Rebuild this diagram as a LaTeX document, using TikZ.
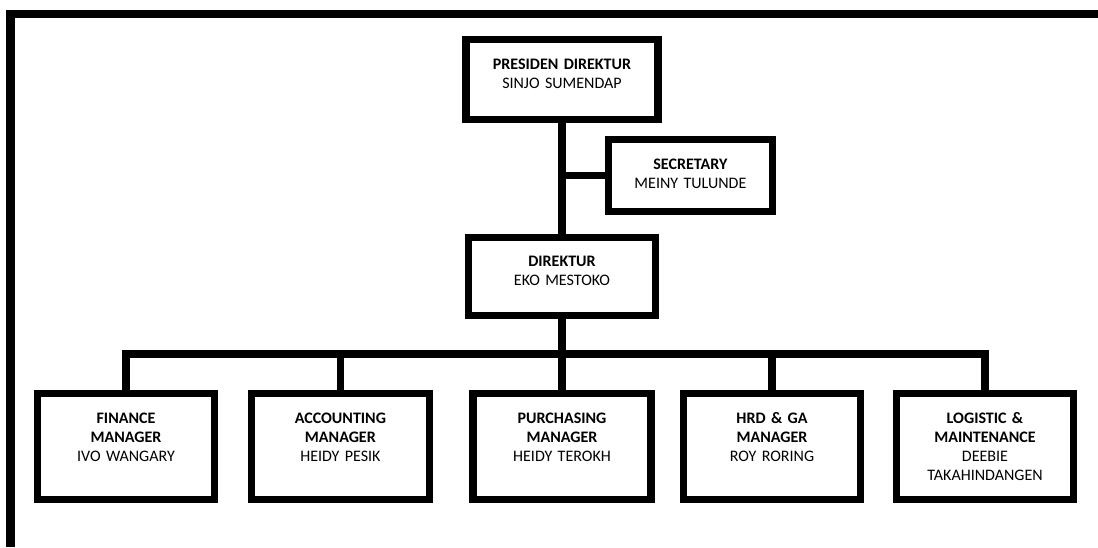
\documentclass[tikz,border=0pt]{standalone}
\usepackage{fontspec}
\setmainfont{Carlito}
\usetikzlibrary{calc}

\tikzset{
 jabatan/.style 2 args={draw, line width=5pt, inner xsep=0pt, inner ysep=0.48cm,
   text width=#1, text height=0.26cm, text depth=#2, align=center, anchor=north,
   font=\fontsize{11.4}{13.4}\selectfont},
 garis/.style={line width=5pt}
}

\begin{document}
\begin{tikzpicture}
 \useasboundingbox (0,0) rectangle (27.45,-13.675);

 % bingkai halaman
 \draw[line width=5.7pt] (27.45,-0.35) -- (0.2625,-0.35) -- (0.2625,-13.675);

 % pimpinan
 \node[jabatan={4.8cm}{0.78cm}] (presdir) at (14.05,-0.91) {\textbf{PRESIDEN DIREKTUR}\\SINJO SUMENDAP};
 \node[jabatan={4.1cm}{0.58cm}] (sekretaris) at (17.26,-3.41) {\textbf{SECRETARY}\\MEINY TULUNDE};
 \node[jabatan={4.675cm}{0.73cm}] (direktur) at (14.05,-5.84) {\textbf{DIREKTUR}\\EKO MESTOKO};

 % manajer
 \node[jabatan={4.425cm}{1.43cm}] (finance) at (3.15,-9.76) {\textbf{FINANCE}\\\textbf{MANAGER}\\IVO WANGARY};
 \node[jabatan={4.45cm}{1.43cm}] (accounting) at (8.51,-9.76) {\textbf{ACCOUNTING}\\\textbf{MANAGER}\\HEIDY PESIK};
 \node[jabatan={4.45cm}{1.43cm}] (purchasing) at (14.05,-9.76) {\textbf{PURCHASING}\\\textbf{MANAGER}\\HEIDY TEROKH};
 \node[jabatan={4.425cm}{1.43cm}] (hrd) at (19.3,-9.76) {\textbf{HRD \& GA}\\\textbf{MANAGER}\\ROY RORING};
 \node[jabatan={4.425cm}{1.43cm}] (logistik) at (24.625,-9.76) {\textbf{LOGISTIC \&}\\\textbf{MAINTENANCE}\\DEEBIE\\TAKAHINDANGEN};

 % garis hubung
 \coordinate (bus) at (0,-8.85);
 \draw[garis] (presdir.south) -- (direktur.north);
 \draw[garis] (sekretaris.west) -- (presdir.south |- sekretaris.west);
 \draw[garis] (direktur.south) -- (direktur.south |- bus);
 \draw[garis] (finance.north) |- (logistik.north |- bus) -- (logistik.north);
 \draw[garis] (accounting.north) -- (accounting.north |- bus);
 \draw[garis] (purchasing.north) -- (purchasing.north |- bus);
 \draw[garis] (hrd.north) -- (hrd.north |- bus);
\end{tikzpicture}
\end{document}
